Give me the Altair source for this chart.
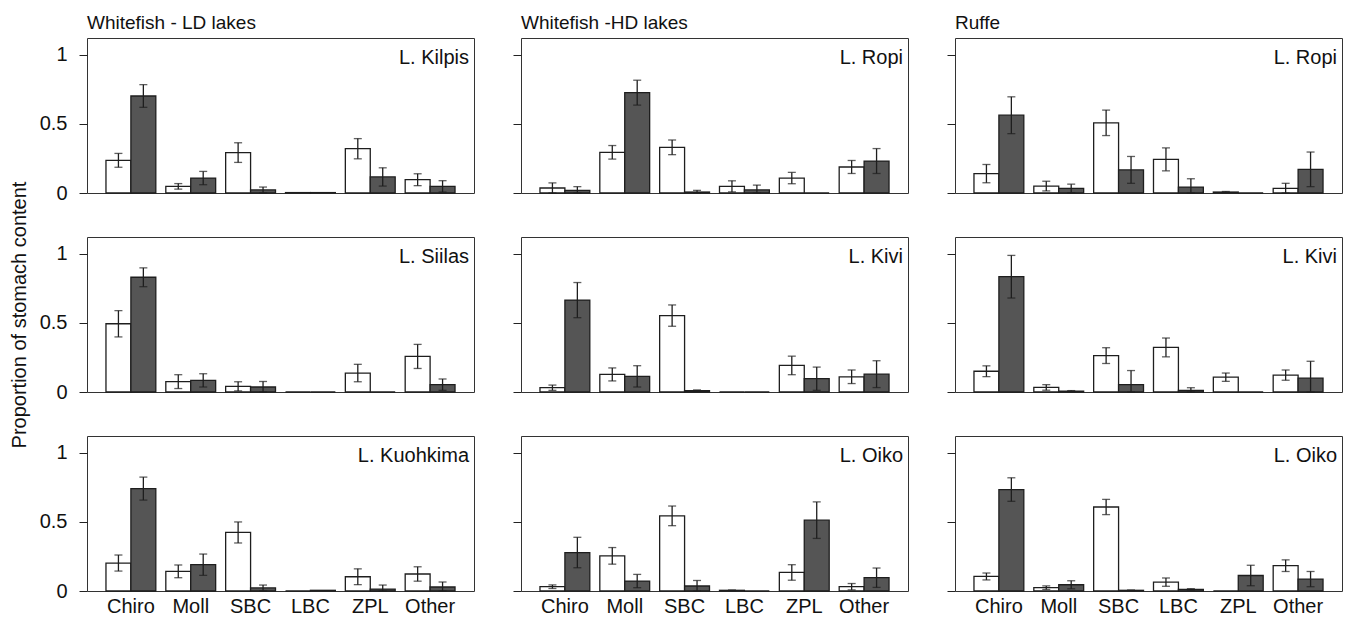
import altair as alt
import pandas as pd

categories = ["Chiro", "Moll", "SBC", "LBC", "ZPL", "Other"]
groups = ["white", "dark"]
col_titles = ["Whitefish - LD lakes", "Whitefish -HD lakes", "Ruffe"]
lake_labels = [
    ["L. Kilpis", "L. Ropi", "L. Ropi"],
    ["L. Siilas", "L. Kivi", "L. Kivi"],
    ["L. Kuohkima", "L. Oiko", "L. Oiko"],
]

# Row 1
kilpis_w = [0.236, 0.048, 0.292, 0.003, 0.320, 0.096]
kilpis_w_se = [0.050, 0.020, 0.071, 0.0, 0.073, 0.043]
kilpis_d = [0.701, 0.108, 0.022, 0.003, 0.116, 0.048]
kilpis_d_se = [0.082, 0.048, 0.021, 0.0, 0.066, 0.041]

ropi_hd_w = [0.036, 0.294, 0.330, 0.048, 0.108, 0.188]
ropi_hd_w_se = [0.037, 0.049, 0.053, 0.040, 0.041, 0.047]
ropi_hd_d = [0.019, 0.725, 0.007, 0.022, 0.0, 0.231]
ropi_hd_d_se = [0.027, 0.090, 0.012, 0.035, 0.0, 0.090]

ropi_ru_w = [0.140, 0.050, 0.507, 0.243, 0.007, 0.033]
ropi_ru_w_se = [0.066, 0.035, 0.092, 0.083, 0.004, 0.037]
ropi_ru_d = [0.562, 0.033, 0.167, 0.043, 0.0, 0.171]
ropi_ru_d_se = [0.133, 0.031, 0.097, 0.060, 0.0, 0.125]

# Row 2
siilas_w = [0.493, 0.075, 0.041, 0.0, 0.137, 0.257]
siilas_w_se = [0.095, 0.050, 0.033, 0.0, 0.063, 0.087]
siilas_d = [0.829, 0.084, 0.036, 0.0, 0.0, 0.053]
siilas_d_se = [0.068, 0.048, 0.040, 0.0, 0.0, 0.041]

kivi_hd_w = [0.031, 0.127, 0.552, 0.0, 0.192, 0.110]
kivi_hd_w_se = [0.019, 0.047, 0.077, 0.0, 0.067, 0.049]
kivi_hd_d = [0.664, 0.113, 0.010, 0.0, 0.096, 0.129]
kivi_hd_d_se = [0.127, 0.077, 0.005, 0.0, 0.084, 0.097]

kivi_ru_w = [0.150, 0.033, 0.263, 0.322, 0.107, 0.122]
kivi_ru_w_se = [0.039, 0.020, 0.057, 0.068, 0.030, 0.037]
kivi_ru_d = [0.833, 0.007, 0.053, 0.012, 0.0, 0.100]
kivi_ru_d_se = [0.154, 0.003, 0.102, 0.019, 0.0, 0.122]

# Row 3
kuohkima_w = [0.202, 0.142, 0.423, 0.0, 0.103, 0.123]
kuohkima_w_se = [0.058, 0.046, 0.076, 0.0, 0.057, 0.052]
kuohkima_d = [0.740, 0.190, 0.022, 0.005, 0.014, 0.029]
kuohkima_d_se = [0.083, 0.077, 0.021, 0.0, 0.029, 0.036]

oiko_hd_w = [0.031, 0.254, 0.543, 0.005, 0.134, 0.031]
oiko_hd_w_se = [0.013, 0.060, 0.071, 0.002, 0.056, 0.023]
oiko_hd_d = [0.278, 0.072, 0.036, 0.0, 0.512, 0.096]
oiko_hd_d_se = [0.110, 0.048, 0.040, 0.0, 0.132, 0.070]

oiko_ru_w = [0.105, 0.024, 0.607, 0.064, 0.0, 0.183]
oiko_ru_w_se = [0.025, 0.013, 0.055, 0.030, 0.0, 0.042]
oiko_ru_d = [0.733, 0.045, 0.005, 0.012, 0.112, 0.086]
oiko_ru_d_se = [0.085, 0.029, 0.002, 0.005, 0.074, 0.055]

panels_data = [
    [(kilpis_w, kilpis_w_se, kilpis_d, kilpis_d_se),
     (ropi_hd_w, ropi_hd_w_se, ropi_hd_d, ropi_hd_d_se),
     (ropi_ru_w, ropi_ru_w_se, ropi_ru_d, ropi_ru_d_se)],
    [(siilas_w, siilas_w_se, siilas_d, siilas_d_se),
     (kivi_hd_w, kivi_hd_w_se, kivi_hd_d, kivi_hd_d_se),
     (kivi_ru_w, kivi_ru_w_se, kivi_ru_d, kivi_ru_d_se)],
    [(kuohkima_w, kuohkima_w_se, kuohkima_d, kuohkima_d_se),
     (oiko_hd_w, oiko_hd_w_se, oiko_hd_d, oiko_hd_d_se),
     (oiko_ru_w, oiko_ru_w_se, oiko_ru_d, oiko_ru_d_se)],
]

W = 387
H = 155
FS = 20
FONT = "Liberation Sans"
INK = "#1e1e1e"


def make_panel(r, c):
    w, wse, d, dse = panels_data[r][c]
    rows = []
    for g, means, ses in (("white", w, wse), ("dark", d, dse)):
        for cat, m, s in zip(categories, means, ses):
            rows.append({"cat": cat, "group": g, "mean": m,
                         "lo": max(0.0, m - s), "hi": m + s, "se": s})
    df = pd.DataFrame(rows)

    x_axis = alt.Axis(
        title=None, domain=False, ticks=False,
        labels=(r == 2), labelFontSize=FS, labelAngle=0, labelPadding=5,
        labelColor="#111",
    )
    y_axis = alt.Axis(
        values=[0, 0.5, 1], format=".1~f", tickSize=8, domain=False, grid=False,
        labels=(c == 0), labelFontSize=FS, labelPadding=12, labelColor="#111",
        tickColor="#222", tickWidth=1,
        title="Proportion of stomach content" if (c == 0 and r == 1) else None,
        titleFontSize=FS, titleFontWeight="normal", titlePadding=10,
        titleColor="#111",
    )
    x = alt.X("cat:N", sort=categories, axis=x_axis,
              scale=alt.Scale(paddingInner=0.167, paddingOuter=0.317))
    xo = alt.XOffset("group:N", sort=groups,
                     scale=alt.Scale(paddingInner=0, paddingOuter=0))
    yscale = alt.Scale(domain=[0, 1.12], nice=False, zero=True)

    base = alt.Chart(df)
    bars = base.mark_bar(stroke=INK, strokeWidth=1.3).encode(
        x=x, xOffset=xo,
        y=alt.Y("mean:Q", scale=yscale, axis=y_axis),
        fill=alt.Fill("group:N", scale=alt.Scale(domain=groups, range=["#ffffff", "#555555"]), legend=None),
    )
    errs = base.transform_filter("datum.se > 0")
    rule = errs.mark_rule(color=INK, strokeWidth=1.3).encode(
        x=x, xOffset=xo, y=alt.Y("lo:Q", scale=yscale), y2="hi:Q")
    cap_hi = errs.mark_tick(color=INK, size=8, thickness=1.3).encode(
        x=x, xOffset=xo, y=alt.Y("hi:Q", scale=yscale))
    cap_lo = errs.mark_tick(color=INK, size=8, thickness=1.3).encode(
        x=x, xOffset=xo, y=alt.Y("lo:Q", scale=yscale))
    label = alt.Chart(pd.DataFrame({"t": [lake_labels[r][c]]})).mark_text(
        align="right", baseline="top", fontSize=FS, color="#111", font=FONT
    ).encode(text="t:N", x=alt.value(W - 5), y=alt.value(10))

    props = dict(width=W, height=H)
    if r == 0:
        props["title"] = alt.TitleParams(
            col_titles[c], anchor="start", frame="group", fontSize=19,
            fontWeight="normal", color="#111", offset=5, font=FONT)
    return alt.layer(bars, rule, cap_hi, cap_lo, label).properties(**props)


panels = [make_panel(r, c) for r in range(3) for c in range(3)]

chart = alt.concat(
    *panels, columns=3, spacing={"row": 44, "column": 47}, bounds="flush"
).configure(
    font=FONT,
    padding={"left": 0, "top": 5, "right": 1, "bottom": 1},
    view=alt.ViewConfig(stroke="#333333", strokeWidth=1),
)

chart.save("out.html", embed_options={"renderer": "svg", "actions": False})
